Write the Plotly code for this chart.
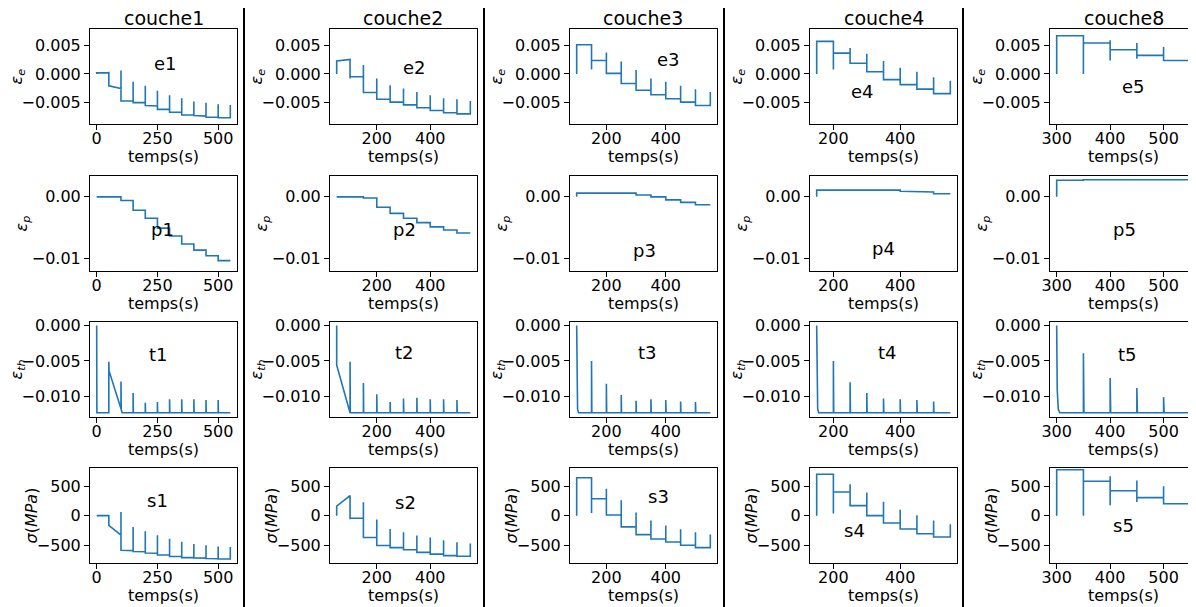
import plotly.graph_objects as go

# ---------------- data ----------------
STEP = 50
T_END = 550
LAYER_T0 = [0, 50, 100, 150, 300]
COL_TITLES = ["couche1", "couche2", "couche3", "couche4", "couche8"]
X_RANGES = [[-27.5, 577.5], [25, 575], [77.5, 572.5], [130, 570], [287.5, 562.5]]
X_TICKS = [[0, 250, 500], [200, 400], [200, 400], [200, 400], [300, 400, 500]]
X_TITLE = "temps(s)"
Y_RANGES = [[-0.0089, 0.0080], [-0.0121, 0.0034], [-0.0129, 0.0005], [-800, 805]]
Y_TICKS = [[-0.005, 0.0, 0.005], [-0.01, 0.0], [-0.010, -0.005, 0.0], [-500, 0, 500]]
Y_FORMATS = [".3f", ".2f", ".3f", "d"]
Y_TITLES = ["<i>ε</i><sub><i>e</i></sub>", "<i>ε</i><sub><i>p</i></sub>",
            "<i>ε</i><sub><i>th</i></sub>", "<i>σ</i>(<i>MPa</i>)"]
PANEL_LABELS = [["e1", "e2", "e3", "e4", "e5"], ["p1", "p2", "p3", "p4", "p5"],
                ["t1", "t2", "t3", "t4", "t5"], ["s1", "s2", "s3", "s4", "s5"]]

# elastic strain: plateau start / end per 50 s segment, peak and dip at each boundary
e1_start = [0.0002, -0.0021, -0.0048, -0.0051, -0.0056, -0.0063, -0.0068, -0.0073, -0.0074, -0.0077, -0.0078]
e1_end = [0.0002, -0.0026, -0.0048, -0.0051, -0.0057, -0.0063, -0.0068, -0.0073, -0.0075, -0.0077, -0.0078]
e1_peak = [0.0004, 0.0006, -0.0014, -0.0021, -0.0030, -0.0038, -0.0043, -0.0049, -0.0051, -0.0054, -0.0055]
e1_dip = [None] * 11

e2_start = [0.0023, -0.0005, -0.0033, -0.0045, -0.0050, -0.0055, -0.0060, -0.0065, -0.0069, -0.0071]
e2_end = [0.0026, -0.0005, -0.0033, -0.0045, -0.0050, -0.0055, -0.0060, -0.0065, -0.0069, -0.0071]
e2_peak = [0.0026, 0.0016, -0.0008, -0.0020, -0.0026, -0.0032, -0.0038, -0.0043, -0.0045, -0.0048]
e2_dip = [-0.0008] + [None] * 9

e3_start = [0.0052, 0.0024, 0.0001, -0.0017, -0.0029, -0.0037, -0.0044, -0.0050, -0.0056]
e3_end = [0.0052, 0.0024, 0.0001, -0.0017, -0.0029, -0.0037, -0.0044, -0.0050, -0.0056]
e3_peak = [0.0052, 0.0038, 0.0022, 0.0007, -0.0008, -0.0014, -0.0021, -0.0027, -0.0032]
e3_dip = [0.0008] + [None] * 8

e4_start = [0.0058, 0.0037, 0.0019, 0.0004, -0.0010, -0.0019, -0.0027, -0.0035]
e4_end = [0.0058, 0.0037, 0.0019, 0.0004, -0.0010, -0.0019, -0.0027, -0.0035]
e4_peak = [0.0058, 0.0046, 0.0036, 0.0023, 0.0011, 0.0004, -0.0006, -0.0012]
e4_dip = [0.0008] + [None] * 7

e5_start = [0.0068, 0.0055, 0.0043, 0.0033, 0.0024]
e5_end = [0.0068, 0.0055, 0.0043, 0.0033, 0.0024]
e5_peak = [0.0068, 0.0060, 0.0055, 0.0048, 0.0040]
e5_dip = [0.0, 0.0024, 0.0027, 0.0023, None]

# plastic strain (pure steps)
p1_level = [0.0, 0.0, -0.0006, -0.0022, -0.0035, -0.0051, -0.0064, -0.0077, -0.0087, -0.0096, -0.0104]
p2_level = [0.0, 0.0, -0.0002, -0.0017, -0.0027, -0.0035, -0.0042, -0.0049, -0.0054, -0.0059]
p3_level = [0.0006, 0.0006, 0.0006, 0.0006, 0.0003, 0.0000, -0.0005, -0.0009, -0.0013]
p4_level = [0.0011, 0.0011, 0.0011, 0.0011, 0.0011, 0.0009, 0.0008, 0.0005]
p5_level = [0.0027, 0.0028, 0.0028, 0.0028, 0.0028]

# thermal strain: baseline, head of curve, spikes at later boundaries
TH_BASE = -0.0123
t1_head_t = [0, 0.8, 50, 50, 51, 100, 100, 101, 105]
t1_head_v = [0.0, TH_BASE, TH_BASE, -0.0051, -0.0064, -0.01175, -0.0079, -0.01185, TH_BASE]
t1_spike_t = [150, 200, 250, 300, 350, 400, 450, 500]
t1_spike_v = [-0.0095, -0.0109, -0.0108, -0.0104, -0.0104, -0.0104, -0.0105, -0.0105]

t2_head_t = [50, 50, 100]
t2_head_v = [0.0, -0.0056, TH_BASE]
t2_spike_t = [100, 150, 200, 250, 300, 350, 400, 450, 500]
t2_spike_v = [-0.0051, -0.0081, -0.0097, -0.0108, -0.0103, -0.0102, -0.0104, -0.0104, -0.0105]

t3_head_t = [100, 101, 103, 106]
t3_head_v = [0.0, -0.0090, -0.0118, TH_BASE]
t3_spike_t = [150, 200, 250, 300, 350, 400, 450, 500]
t3_spike_v = [-0.0050, -0.0082, -0.0098, -0.0106, -0.0104, -0.0105, -0.0107, -0.0108]

t4_head_t = [150, 151, 153, 156]
t4_head_v = [0.0, -0.0090, -0.0118, TH_BASE]
t4_spike_t = [200, 250, 300, 350, 400, 450, 500]
t4_spike_v = [-0.0050, -0.0080, -0.0095, -0.0103, -0.0104, -0.0105, -0.0107]

t5_head_t = [300, 301, 303, 306]
t5_head_v = [0.0, -0.0090, -0.0118, TH_BASE]
t5_spike_t = [350, 400, 450, 500, 550]
t5_spike_v = [-0.0039, -0.0074, -0.0088, -0.0101, -0.0111]

# stress (MPa)
s1_start = [0, -165, -585, -605, -630, -665, -690, -710, -715, -725, -730]
s1_end = [0, -330, -590, -610, -635, -665, -690, -710, -718, -727, -733]
s1_peak = [0, 60, -190, -265, -330, -390, -440, -480, -500, -520, -530]
s1_dip = [None] * 11

s2_start = [160, -45, -370, -505, -540, -575, -620, -650, -675, -685]
s2_end = [340, -45, -370, -505, -540, -575, -620, -650, -675, -685]
s2_peak = [340, 225, -65, -225, -280, -335, -370, -415, -450, -470]
s2_dip = [-60] + [None] * 9

s3_start = [640, 285, 10, -190, -320, -395, -445, -500, -540]
s3_end = [640, 285, 10, -190, -320, -395, -445, -500, -540]
s3_peak = [640, 455, 260, 55, -80, -165, -230, -280, -320]
s3_dip = [45] + [None] * 8

s4_start = [700, 400, 170, 0, -125, -225, -305, -360]
s4_end = [700, 400, 170, 0, -125, -225, -305, -360]
s4_peak = [700, 530, 390, 235, 100, 5, -80, -145]
s4_dip = [35] + [None] * 7

s5_start = [775, 580, 420, 305, 200]
s5_end = [775, 580, 420, 305, 200]
s5_peak = [775, 665, 595, 495, 410]
s5_dip = [0, 175, 230, 190, None]


# ---------------- builders ----------------
def step_series(t0, starts, ends, peaks=None, dips=None):
    T, V = [t0], [0.0]
    n = len(starts)
    for k in range(n):
        ta = t0 + STEP * k
        tb = ta + STEP
        T += [ta, tb]
        V += [starts[k], ends[k]]
        if peaks is not None and peaks[k] is not None:
            T.append(tb); V.append(peaks[k])
        if dips is not None and k < n - 1 and dips[k] is not None:
            T.append(tb); V.append(dips[k])
    return T, V


def spike_series(head_t, head_v, spike_t, spike_v, base):
    T, V = list(head_t), list(head_v)
    for ts, vs in zip(spike_t, spike_v):
        T += [ts, ts, ts + 1.0]
        V += [base, vs, base]
    if T[-1] < T_END:
        T.append(T_END); V.append(base)
    return T, V


series = [
    [step_series(LAYER_T0[0], e1_start, e1_end, e1_peak, e1_dip),
     step_series(LAYER_T0[1], e2_start, e2_end, e2_peak, e2_dip),
     step_series(LAYER_T0[2], e3_start, e3_end, e3_peak, e3_dip),
     step_series(LAYER_T0[3], e4_start, e4_end, e4_peak, e4_dip),
     step_series(LAYER_T0[4], e5_start, e5_end, e5_peak, e5_dip)],
    [step_series(LAYER_T0[0], p1_level, p1_level),
     step_series(LAYER_T0[1], p2_level, p2_level),
     step_series(LAYER_T0[2], p3_level, p3_level),
     step_series(LAYER_T0[3], p4_level, p4_level),
     step_series(LAYER_T0[4], p5_level, p5_level)],
    [spike_series(t1_head_t, t1_head_v, t1_spike_t, t1_spike_v, TH_BASE),
     spike_series(t2_head_t, t2_head_v, t2_spike_t, t2_spike_v, TH_BASE),
     spike_series(t3_head_t, t3_head_v, t3_spike_t, t3_spike_v, TH_BASE),
     spike_series(t4_head_t, t4_head_v, t4_spike_t, t4_spike_v, TH_BASE),
     spike_series(t5_head_t, t5_head_v, t5_spike_t, t5_spike_v, TH_BASE)],
    [step_series(LAYER_T0[0], s1_start, s1_end, s1_peak, s1_dip),
     step_series(LAYER_T0[1], s2_start, s2_end, s2_peak, s2_dip),
     step_series(LAYER_T0[2], s3_start, s3_end, s3_peak, s3_dip),
     step_series(LAYER_T0[3], s4_start, s4_end, s4_peak, s4_dip),
     step_series(LAYER_T0[4], s5_start, s5_end, s5_peak, s5_dip)],
]

# ---------------- layout geometry (screen pixels) ----------------
W, H = 1196, 607
OFF = 8            # page body margin in the browser
AX_LEFT0, COL_STEP, AX_W = 90, 240, 147
ROW_TOPS = [29, 176, 322, 468]
AX_H = 95
SEPARATORS = [244, 484, 724, 963]
YTITLE_X = [17, 22, 17, 31]
XTITLE_DY = 32
TITLE_Y = 18
LABEL_POS = [
    [(0.517, 0.64), (0.578, 0.60), (0.667, 0.674), (0.36, 0.337), (0.565, 0.39)],
    [(0.49, 0.442), (0.51, 0.442), (0.51, 0.221), (0.503, 0.242), (0.51, 0.442)],
    [(0.463, 0.653), (0.51, 0.674), (0.524, 0.684), (0.53, 0.684), (0.524, 0.663)],
    [(0.456, 0.653), (0.517, 0.632), (0.6, 0.695), (0.306, 0.347), (0.497, 0.40)],
]

FONT = "DejaVu Sans"
BLUE = "#1f77b4"


def fx_(sx):
    return (sx - OFF) / W


def fy_(sy):
    return 1 - (sy - OFF) / H


def sfx(i):
    return "" if i == 1 else str(i)


fig = go.Figure()
layout = dict(
    template="none",
    width=W, height=H, margin=dict(l=0, r=0, t=0, b=0, autoexpand=False),
    paper_bgcolor="white", plot_bgcolor="white",
    font=dict(family=FONT, size=16, color="black"),
    showlegend=False,
)
annotations = []
shapes = []

for r in range(4):
    for c in range(5):
        i = r * 5 + c + 1
        s = sfx(i)
        T, V = series[r][c]
        fig.add_trace(go.Scatter(x=T, y=V, mode="lines",
                                 line=dict(color=BLUE, width=1.6),
                                 xaxis="x" + s, yaxis="y" + s,
                                 hoverinfo="skip", showlegend=False))
        x0 = AX_LEFT0 + COL_STEP * c
        x1 = min(x0 + AX_W, W + OFF - 2)
        y0 = ROW_TOPS[r]
        y1 = y0 + AX_H
        layout["xaxis" + s] = dict(
            domain=[fx_(x0), fx_(x1)], anchor="y" + s, range=X_RANGES[c],
            tickvals=X_TICKS[c], tickformat="d", automargin=False,
            showline=True, mirror=True, linecolor="black", linewidth=1,
            ticks="outside", ticklen=5, tickwidth=1, tickcolor="black",
            ticklabelstandoff=-5,
            showgrid=False, zeroline=False,
            tickfont=dict(size=16),
        )
        layout["yaxis" + s] = dict(
            domain=[fy_(y1), fy_(y0)], anchor="x" + s, range=Y_RANGES[r],
            tickvals=Y_TICKS[r], tickformat=Y_FORMATS[r], automargin=False,
            showline=True, mirror=True, linecolor="black", linewidth=1,
            ticks="outside", ticklen=5, tickwidth=1, tickcolor="black",
            showgrid=False, zeroline=False,
            tickfont=dict(size=16),
        )
        # x-axis title
        annotations.append(dict(text=X_TITLE, xref="paper", yref="paper",
                                x=fx_(x0 + AX_W / 2), y=fy_(y1 + XTITLE_DY),
                                showarrow=False, xanchor="center", yanchor="middle",
                                font=dict(size=16, color="black")))
        # y-axis title
        annotations.append(dict(text=Y_TITLES[r], xref="paper", yref="paper",
                                x=fx_(YTITLE_X[r] + COL_STEP * c), y=fy_(y0 + AX_H / 2),
                                showarrow=False, xanchor="center", yanchor="middle",
                                textangle=-90, font=dict(size=16, color="black")))
        # panel label
        px, py = LABEL_POS[r][c]
        annotations.append(dict(text=PANEL_LABELS[r][c], xref="x" + s + " domain", yref="y" + s + " domain",
                                x=px, y=py, showarrow=False, xanchor="center", yanchor="middle",
                                font=dict(size=18, color="black")))

for c in range(5):
    cx = AX_LEFT0 + COL_STEP * c + AX_W / 2
    annotations.append(dict(text=COL_TITLES[c], xref="paper", yref="paper",
                            x=fx_(cx), y=fy_(TITLE_Y), showarrow=False,
                            xanchor="center", yanchor="middle",
                            font=dict(size=19, color="black")))

for sx in SEPARATORS:
    shapes.append(dict(type="line", xref="paper", yref="paper",
                       x0=fx_(sx), x1=fx_(sx), y0=0, y1=1,
                       line=dict(color="black", width=2)))

layout["annotations"] = annotations
layout["shapes"] = shapes
fig.update_layout(**layout)
fig.write_html("out.html")
